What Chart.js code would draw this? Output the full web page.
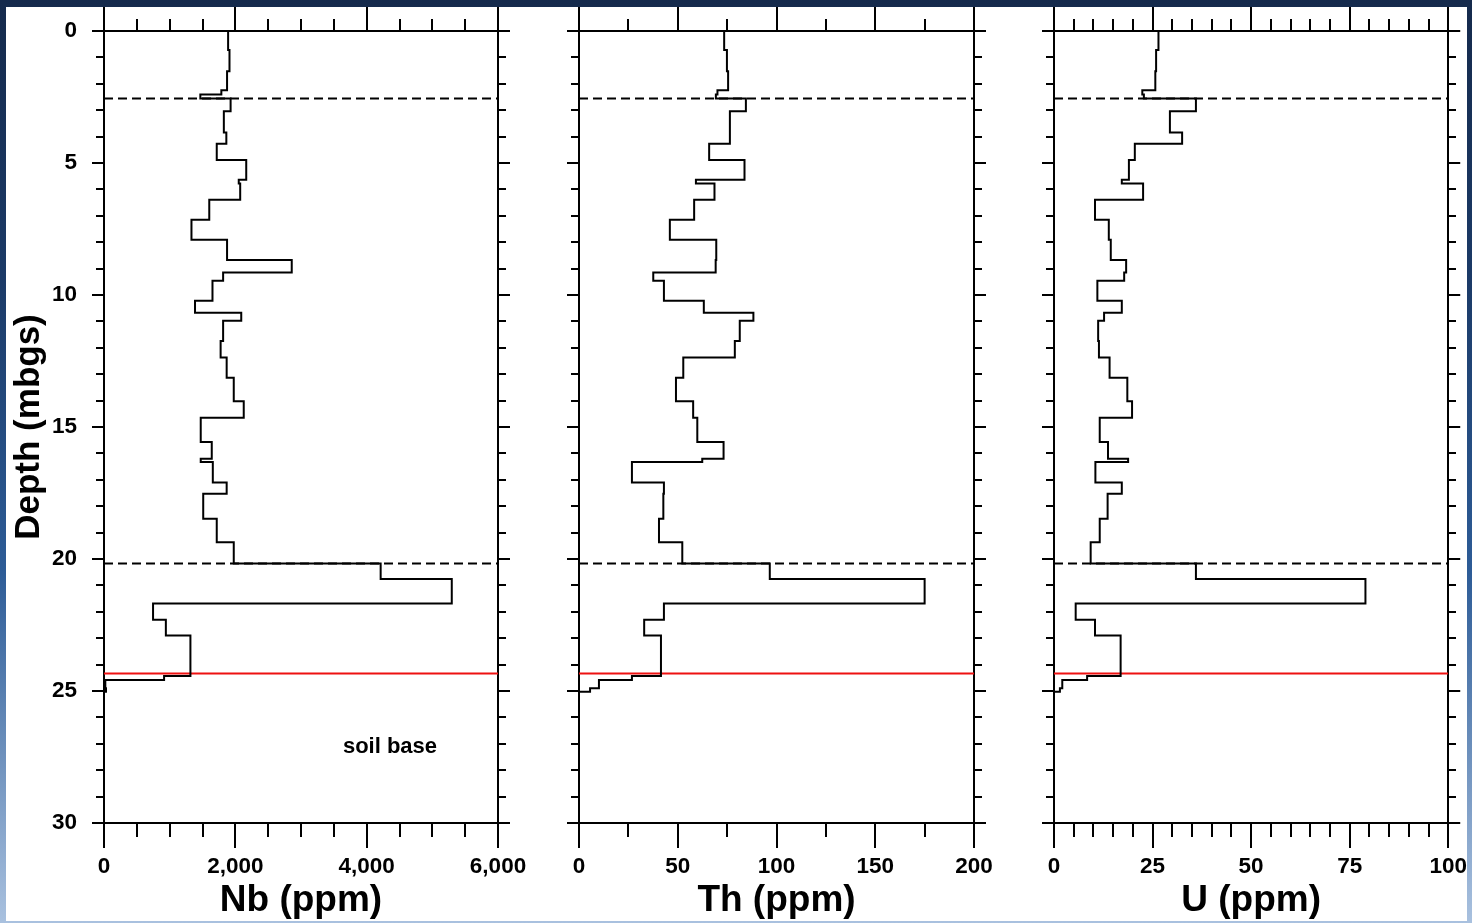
<!DOCTYPE html>
<html>
<head>
<meta charset="utf-8">
<script src="https://cdn.jsdelivr.net/npm/chart.js@4.4.1/dist/chart.umd.min.js"></script>
<style>
html,body{margin:0;padding:0;}
body{width:1472px;height:923px;position:relative;overflow:hidden;
  background:linear-gradient(180deg,#152a4c 0%,#1b3a67 30%,#2d5c97 62%,#a9c1df 100%);}
#paper{position:absolute;left:6px;top:7px;width:1461px;height:914px;background:#fff;}
canvas{position:absolute;top:0;}
</style>
</head>
<body>
<div id="paper"></div>
<canvas id="c1" width="540" height="923" style="left:0px"></canvas>
<canvas id="c2" width="475" height="923" style="left:540px"></canvas>
<canvas id="c3" width="457" height="923" style="left:1015px"></canvas>
<script>
// ---- data (depth in metres below ground surface) ----
const depthTop = [0, 0.72, 1.52, 2.24, 2.41, 2.56, 3.04, 3.84, 4.27, 4.89, 5.63, 5.78, 6.39, 7.15, 7.91, 8.67,
  9.15, 9.46, 10.22, 10.67, 10.98, 11.74, 12.37, 13.13, 14.02, 14.65, 15.57, 16.20, 16.33, 17.10, 17.53,
  18.48, 19.37, 20.17, 20.76, 21.69, 22.30, 22.90, 24.43, 24.58, 24.90];
const profileBottom = 25.03;

const nbValues = [1890, 1911, 1874, 1787, 1467, 1928, 1825, 1863, 1717, 2166, 2052, 2074, 1603, 1332, 1874, 2859,
  1814, 1652, 1386, 2090, 1814, 1776, 1868, 1976, 2128, 1473, 1641, 1473, 1657, 1868, 1511,
  1717, 1976, 4213, 5296, 747, 942, 1316, 915, 20, 30];
const thValues = [73.5, 74.9, 75.5, 70.1, 69.3, 84.5, 76.4, 76.4, 65.9, 83.8, 59.2, 68.6, 58.3, 46.0, 69.5, 69.2,
  37.6, 43.0, 63.2, 88.3, 81.4, 78.9, 52.8, 49.1, 57.8, 59.9, 73.2, 62.4, 26.8, 43.0, 42.7,
  40.5, 52.3, 96.6, 175, 43, 33, 41.5, 26.8, 10.1, 5.6];
const uValues = [26.5, 25.9, 25.7, 22.4, 22.8, 36.0, 29.4, 32.5, 20.5, 19.0, 17.2, 22.6, 10.4, 13.9, 14.4, 18.3,
  17.8, 11.0, 17.2, 12.7, 11.2, 11.4, 14.1, 18.6, 19.8, 11.6, 13.7, 18.8, 10.5, 17.2, 13.6,
  11.6, 9.3, 36.0, 79.0, 5.5, 10.4, 16.9, 8.4, 2.1, 1.5];

const dashedDepths = [2.56, 20.17];
const soilBaseDepth = 24.34;
const soilBaseLabel = {text: 'soil base', value: 4355, depth: 27.1};

const depthTicksMajor = 5;
const depthMax = 30;

// ---- styling / layout ----
const FONT = "'Liberation Sans', Arial, Helvetica, sans-serif";
const panels = [
  {id: 'c1', values: nbValues, max: 6000, major: 2000, minor: 500, title: 'Nb (ppm)', yLabels: true, leftW: 104, rightW: 42, note: true},
  {id: 'c2', values: thValues, max: 200, major: 50, minor: 25, title: 'Th (ppm)', yLabels: false, leftW: 39, rightW: 41},
  {id: 'c3', values: uValues, max: 100, major: 25, minor: 5, title: 'U (ppm)', yLabels: false, leftW: 39, rightW: 22}
];

function isMul(v, step) {
  const r = Math.abs(v / step - Math.round(v / step));
  return r < 1e-6;
}

const notePlugin = {
  id: 'soilNote',
  afterDatasetsDraw(chart) {
    const xs = chart.scales.x, ys = chart.scales.y;
    const ctx = chart.ctx;
    ctx.save();
    ctx.fillStyle = '#000';
    ctx.font = 'bold 22px ' + FONT;
    ctx.textAlign = 'center';
    ctx.textBaseline = 'middle';
    ctx.fillText(soilBaseLabel.text, xs.getPixelForValue(soilBaseLabel.value), ys.getPixelForValue(soilBaseLabel.depth));
    ctx.restore();
  }
};

panels.forEach(p => {
  const profile = p.values.map((v, i) => ({x: v, y: depthTop[i]}));
  profile.push({x: 0, y: profileBottom});

  const datasets = [
    {label: p.title, data: profile, showLine: true, stepped: 'after', borderColor: '#000', borderWidth: 2,
      pointRadius: 0, fill: false, order: 0}
  ];
  dashedDepths.forEach(d => datasets.push({
    data: [{x: 0, y: d}, {x: p.max, y: d}], showLine: true, borderColor: '#000', borderWidth: 2,
    borderDash: [9, 5], pointRadius: 0, fill: false, order: 2
  }));
  datasets.push({
    data: [{x: 0, y: soilBaseDepth}, {x: p.max, y: soilBaseDepth}], showLine: true, borderColor: '#ee1111',
    borderWidth: 2, pointRadius: 0, fill: false, order: 1
  });

  const gridBase = {display: true, drawOnChartArea: false, drawTicks: true, color: '#000', tickColor: '#000',
    lineWidth: 2, tickWidth: 2};
  const border = {display: true, color: '#000', width: 2};
  const tickFont = {family: FONT, size: 22.5, weight: 'bold'};

  new Chart(document.getElementById(p.id), {
    type: 'scatter',
    data: {datasets},
    options: {
      responsive: false,
      animation: false,
      events: [],
      layout: {padding: 0},
      plugins: {legend: {display: false}, tooltip: {enabled: false}},
      scales: {
        x: {
          type: 'linear', position: 'bottom', min: 0, max: p.max,
          ticks: {stepSize: p.minor, autoSkip: false, maxRotation: 0, minRotation: 0, maxTicksLimit: 1000,
            padding: 5, color: '#000', font: tickFont,
            callback: v => isMul(v, p.major) ? Number(v).toLocaleString('en-US') : ''},
          grid: Object.assign({}, gridBase, {tickLength: 25,
            tickBorderDash: c => (c.tick && !isMul(c.tick.value, p.major)) ? [13, 40] : [],
            tickBorderDashOffset: 0}),
          border,
          title: {display: true, text: p.title, color: '#000', font: {family: FONT, size: 37, weight: 'bold'},
            padding: {top: 0, bottom: 0}},
          afterFit: s => { s.height = 100; }
        },
        xTop: {
          type: 'linear', position: 'top', min: 0, max: p.max,
          ticks: {display: false, stepSize: p.minor, autoSkip: false, maxTicksLimit: 1000},
          grid: Object.assign({}, gridBase, {tickLength: 24,
            tickBorderDash: c => (c.tick && !isMul(c.tick.value, p.major)) ? [12, 12] : [],
            tickBorderDashOffset: c => (c.tick && !isMul(c.tick.value, p.major)) ? 12 : 0}),
          border,
          afterFit: s => { s.height = 31; }
        },
        y: {
          type: 'linear', position: 'left', reverse: true, min: 0, max: depthMax,
          ticks: {display: p.yLabels, stepSize: 1, autoSkip: false, maxTicksLimit: 1000, padding: 15,
            color: '#000', font: tickFont,
            callback: v => isMul(v, depthTicksMajor) ? String(v) : ''},
          grid: Object.assign({}, gridBase, {tickLength: 12,
            tickBorderDash: c => (c.tick && !isMul(c.tick.value, depthTicksMajor)) ? [7, 4] : [],
            tickBorderDashOffset: c => (c.tick && !isMul(c.tick.value, depthTicksMajor)) ? 7 : 0}),
          border,
          title: {display: p.yLabels, text: 'Depth (mbgs)', color: '#000',
            font: {family: FONT, size: 35, weight: 'bold'}, padding: {top: 8, bottom: 0}},
          afterFit: s => { s.width = p.leftW; }
        },
        yRight: {
          type: 'linear', position: 'right', reverse: true, min: 0, max: depthMax,
          ticks: {display: false, stepSize: 1, autoSkip: false, maxTicksLimit: 1000},
          grid: Object.assign({}, gridBase, {tickLength: 12,
            tickBorderDash: c => (c.tick && !isMul(c.tick.value, depthTicksMajor)) ? [7, 20] : []}),
          border,
          afterFit: s => { s.width = p.rightW; }
        }
      }
    },
    plugins: p.note ? [notePlugin] : []
  });
});
</script>
</body>
</html>
